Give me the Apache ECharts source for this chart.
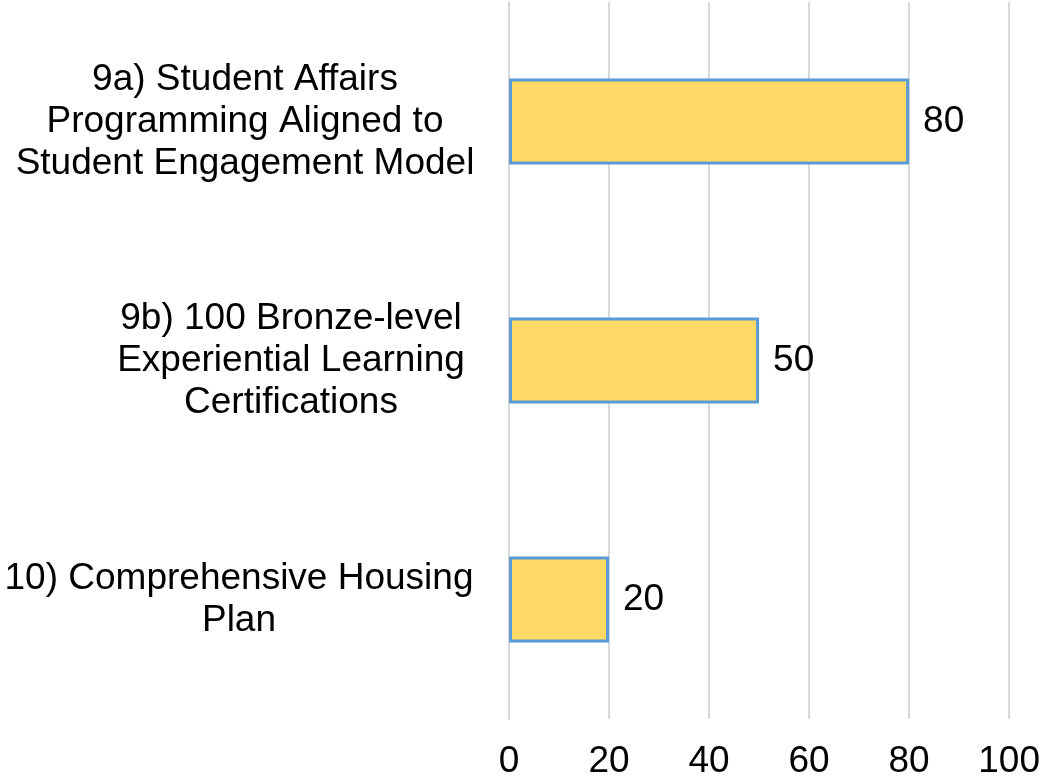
<!DOCTYPE html>
<html>
<head>
<meta charset="utf-8">
<script src="https://cdn.jsdelivr.net/npm/echarts@6/dist/echarts.min.js"></script>
<style>
  html, body { margin: 0; padding: 0; background: #ffffff; }
  #chart { width: 1043px; height: 783px; }
</style>
</head>
<body>
<div id="chart"></div>
<script>
// 数据
const categories = [
  '9a) Student Affairs\nProgramming Aligned to\nStudent Engagement Model',
  '9b) 100 Bronze-level\nExperiential Learning\nCertifications',
  '10) Comprehensive Housing\nPlan'
]
const values = [80, 50, 20]
const xTicks = [0, 20, 40, 60, 80, 100]

// label block widths (lines centred inside)
const labelWidths = [460, 368, 472]

const chart = echarts.init(document.getElementById('chart'))

const font = '"Liberation Sans", Arial, sans-serif'

const rich = {}
labelWidths.forEach((w, i) => {
  rich['c' + i] = { width: w, align: 'center', fontSize: 37, lineHeight: 42, color: '#000', fontFamily: font }
})

const option = {
  backgroundColor: '#ffffff',
  animation: false,
  grid: { left: 506, right: 32, top: 2, bottom: 64 },
  xAxis: {
    type: 'value',
    min: xTicks[0],
    max: xTicks[xTicks.length - 1],
    interval: 20,
    axisLine: { show: false },
    axisTick: { show: false },
    splitLine: { lineStyle: { color: '#d9d9d9', width: 2 } },
    axisLabel: { color: '#000', fontSize: 37, fontFamily: font, margin: 24 }
  },
  yAxis: {
    type: 'category',
    inverse: true,
    data: categories,
    axisLine: { show: true, lineStyle: { color: '#d9d9d9', width: 2 } },
    axisTick: { show: false },
    axisLabel: {
      margin: 34,
      align: 'right',
      formatter: (v, i) => '{c' + i + '|' + v + '}',
      rich: rich
    }
  },
  series: [{
    type: 'bar',
    data: values,
    barWidth: 86,
    itemStyle: { color: '#ffd966', borderColor: '#5b9bd5', borderWidth: 3 },
    label: {
      show: true,
      position: 'right',
      distance: 14,
      color: '#000',
      fontSize: 37,
      fontFamily: font
    }
  }]
}

chart.setOption(option)
</script>
</body>
</html>
